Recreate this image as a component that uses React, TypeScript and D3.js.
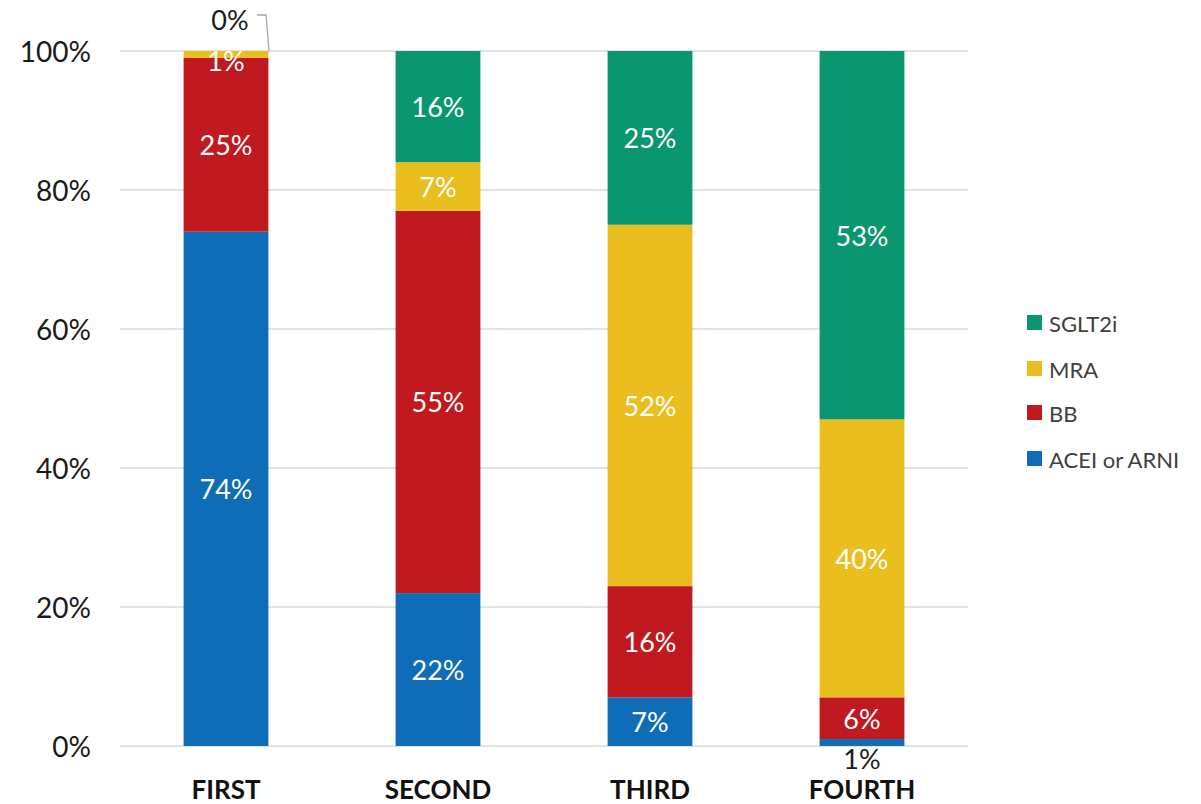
import React from "react";
import * as d3 from "d3";

// Treatment line categories and stacked series (percent of patients)
const categories = ["FIRST", "SECOND", "THIRD", "FOURTH"];
const seriesNames = ["ACEI or ARNI", "BB", "MRA", "SGLT2i"];
const aceiArni = [74, 22, 7, 1];
const bb = [25, 55, 16, 6];
const mra = [1, 7, 52, 40];
const sglt2i = [0, 16, 25, 53];
const yTicks = [0, 20, 40, 60, 80, 100];
const colors = ["#0F6DB8", "#C01920", "#EBBE1F", "#0A9770"];

const W = 1201;
const H = 804;
const margin = { left: 120, right: 233, top: 51, bottom: 58 };
const font = "Lato, 'Open Sans', sans-serif";

export default function App() {
  const seriesValues = [aceiArni, bb, mra, sglt2i];
  const rows = categories.map((c, i) => {
    const r: Record<string, any> = { cat: c };
    seriesNames.forEach((s, k) => (r[s] = seriesValues[k][i]));
    return r;
  });
  const stack = d3.stack<any>().keys(seriesNames)(rows);

  const x = d3
    .scaleBand<string>()
    .domain(categories)
    .range([margin.left, W - margin.right])
    .paddingInner(0.6)
    .paddingOuter(0.3);
  const y = d3.scaleLinear().domain([0, 100]).range([H - margin.bottom, margin.top]);

  const bw = x.bandwidth();
  const legendY = [458, 412, 368, 322];

  return (
    <svg
      width={W}
      height={H}
      style={{ position: "absolute", left: 0, top: 0, background: "#fff" }}
      fontFamily={font}
    >
      {/* gridlines */}
      {yTicks.map((t) => (
        <line
          key={t}
          x1={margin.left}
          x2={W - margin.right}
          y1={y(t)}
          y2={y(t)}
          stroke="#D9D9D9"
          strokeWidth={1.5}
        />
      ))}
      {/* y labels */}
      {yTicks.map((t) => (
        <text
          key={"l" + t}
          x={91}
          y={y(t)}
          textAnchor="end"
          dominantBaseline="central"
          fontSize={28}
          fill="#1a1a1a"
        >
          {t}%
        </text>
      ))}
      {/* bars */}
      {stack.map((layer, k) =>
        layer.map((d, i) => {
          const cat = categories[i];
          const x0 = x(cat)!;
          const top = y(d[1]);
          const bot = y(d[0]);
          return (
            <rect
              key={k + "-" + i}
              x={x0}
              y={top}
              width={bw}
              height={Math.max(0, bot - top)}
              fill={colors[k]}
            />
          );
        })
      )}
      {/* value labels */}
      {stack.map((layer, k) =>
        layer.map((d, i) => {
          const cat = categories[i];
          const v = d[1] - d[0];
          const cx = x(cat)! + bw / 2;
          if (v === 0) {
            // zero-size segment: callout above the bar with leader line
            const ly = y(d[1]);
            return (
              <g key={"v" + k + "-" + i}>
                <polyline
                  points={`${cx + 31},15 ${cx + 40},15 ${cx + 43},${ly}`}
                  fill="none"
                  stroke="#A6A6A6"
                  strokeWidth={1.3}
                />
                <text
                  x={cx + 4}
                  y={19}
                  textAnchor="middle"
                  dominantBaseline="central"
                  fontSize={27}
                  fill="#1a1a1a"
                >
                  0%
                </text>
              </g>
            );
          }
          if (v === 1 && k === 0) {
            return (
              <text
                key={"v" + k + "-" + i}
                x={cx}
                y={y(0) + 12}
                textAnchor="middle"
                dominantBaseline="central"
                fontSize={27}
                fill="#1a1a1a"
              >
                {v}%
              </text>
            );
          }
          return (
            <text
              key={"v" + k + "-" + i}
              x={cx}
              y={(y(d[0]) + y(d[1])) / 2 + (v === 1 ? 6 : 0)}
              textAnchor="middle"
              dominantBaseline="central"
              fontSize={27}
              fill="#fff"
            >
              {v}%
            </text>
          );
        })
      )}
      {/* category labels */}
      {categories.map((c) => (
        <text
          key={c}
          x={x(c)! + bw / 2}
          y={789}
          textAnchor="middle"
          dominantBaseline="central"
          fontSize={26}
          fontWeight="bold"
          fill="#111"
        >
          {c}
        </text>
      ))}
      {/* legend */}
      {seriesNames.map((s, k) => (
        <g key={s} transform={`translate(1027,${legendY[k]})`}>
          <rect x={0} y={-7} width={15} height={15} fill={colors[k]} />
          <text x={22} y={1} dominantBaseline="central" fontSize={22} fill="#404040">
            {s}
          </text>
        </g>
      ))}
    </svg>
  );
}
